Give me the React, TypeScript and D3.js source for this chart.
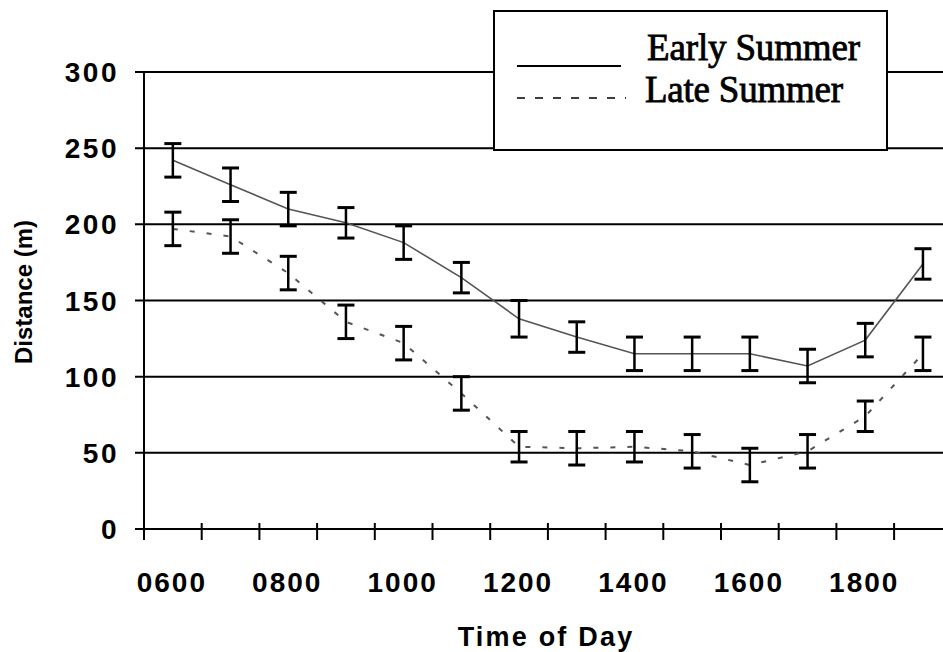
import React from "react";
import * as d3 from "d3";

const times = ["0600", "0700", "0800", "0900", "1000", "1100", "1200", "1300", "1400", "1500", "1600", "1700", "1800", "1900"];
const tickLabels = ["0600", "0800", "1000", "1200", "1400", "1600", "1800"];
const yTicks = [0, 50, 100, 150, 200, 250, 300];

const early = [242, 226, 210, 201, 188, 165, 138, 126, 115, 115, 115, 107, 124, 174];
const earlyErr = [11, 11, 11, 10, 11, 10, 12, 10, 11, 11, 11, 11, 11, 10];
const late = [197, 192, 168, 136, 122, 89, 54, 53, 54, 51, 42, 51, 74, 115];
const lateErr = [11, 11, 11, 11, 11, 11, 10, 11, 10, 11, 11, 11, 10, 11];

const width = 943;
const height = 652;

const x = d3.scaleBand().domain(times).range([144, 144 + 14 * 57.7]);
const y = d3.scaleLinear().domain([0, 300]).range([529, 72]);
const cx = (t: string) => (x(t) as number) + x.bandwidth() / 2;

const line = d3
  .line<number>()
  .x((_, i) => cx(times[i]))
  .y((d) => y(d));

const sansBold = { fontFamily: "'Liberation Sans', Arial, sans-serif", fontWeight: 700 };

const ErrorBars = ({ vals, errs }: { vals: number[]; errs: number[] }) => (
  <g stroke="#000" strokeWidth={2.5}>
    {vals.map((v, i) => {
      const px = cx(times[i]);
      const top = y(v + errs[i]);
      const bot = y(v - errs[i]);
      return (
        <g key={i}>
          <line x1={px} x2={px} y1={top} y2={bot} />
          <line x1={px - 8.5} x2={px + 8.5} y1={top} y2={top} strokeWidth={3} />
          <line x1={px - 8.5} x2={px + 8.5} y1={bot} y2={bot} strokeWidth={3} />
        </g>
      );
    })}
  </g>
);

export default function App() {
  const boundaries = [...times.map((t) => x(t) as number), x.range()[1]];
  return (
    <svg
      width={width}
      height={height}
      style={{ display: "block", background: "#fff", position: "absolute", left: 0, top: 0 }}
    >
      {/* gridlines */}
      {yTicks.map((t) => (
        <line key={t} x1={135} x2={width} y1={y(t)} y2={y(t)} stroke="#000" strokeWidth={2} />
      ))}
      {/* y axis */}
      <line x1={144} x2={144} y1={y(300)} y2={540} stroke="#000" strokeWidth={2} />
      {/* x ticks */}
      {boundaries.map((b, i) => (
        <line key={i} x1={b} x2={b} y1={523} y2={540} stroke="#000" strokeWidth={2} />
      ))}
      {yTicks.map((t) => (
        <text key={t} x={119} y={y(t)} dy="0.36em" textAnchor="end" fontSize={28} letterSpacing={2.5} style={sansBold}>
          {t}
        </text>
      ))}
      {tickLabels.map((t) => (
        <text key={t} x={cx(t) - 1} y={591.5} textAnchor="middle" fontSize={28} letterSpacing={2} style={sansBold}>
          {t}
        </text>
      ))}
      <text x={546} y={646} textAnchor="middle" fontSize={27} letterSpacing={2.2} style={sansBold}>
        Time of Day
      </text>
      <text transform="translate(32,292) rotate(-90)" textAnchor="middle" fontSize={24} style={sansBold}>
        Distance (m)
      </text>

      {/* series */}
      <path d={line(early) ?? ""} fill="none" stroke="#555" strokeWidth={1.6} />
      <path d={line(late) ?? ""} fill="none" stroke="#555" strokeWidth={2} strokeDasharray="5 12" />
      <ErrorBars vals={early} errs={earlyErr} />
      <ErrorBars vals={late} errs={lateErr} />

      {/* legend */}
      <rect x={494} y={11} width={393} height={139} fill="#fff" stroke="#000" strokeWidth={2} />
      <line x1={517} x2={621} y1={66} y2={66} stroke="#000" strokeWidth={2} />
      <line x1={517} x2={626} y1={98} y2={98} stroke="#000" strokeWidth={1.5} strokeDasharray="8 10" />
      <text x={647} y={60} fontSize={37} textLength={213} lengthAdjust="spacing" fontFamily="'Liberation Serif', 'Times New Roman', serif" stroke="#000" strokeWidth={0.8}>
        Early Summer
      </text>
      <text x={645} y={101.5} fontSize={37} textLength={198} lengthAdjust="spacing" fontFamily="'Liberation Serif', 'Times New Roman', serif" stroke="#000" strokeWidth={0.8}>
        Late Summer
      </text>
    </svg>
  );
}
